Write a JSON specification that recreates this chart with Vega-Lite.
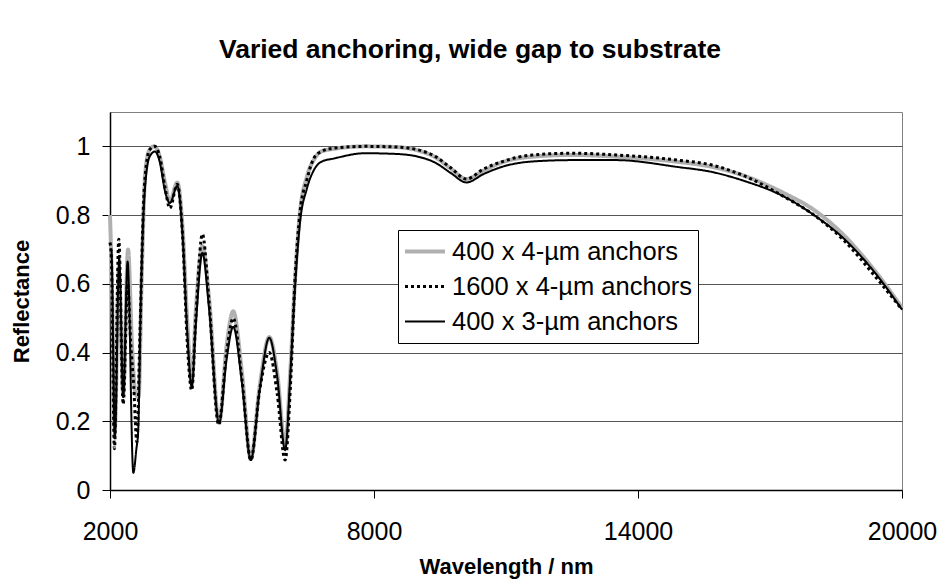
{
  "$schema": "https://vega.github.io/schema/vega-lite/v6.json",
  "width": 792,
  "height": 378,
  "autosize": {"type": "none"},
  "padding": {"left": 110, "top": 112, "right": 37, "bottom": 96},
  "background": "white",
  "config": {
    "font": "Liberation Sans",
    "view": {"stroke": "#808080", "strokeWidth": 1},
    "axis": {"domainColor": "#000", "tickColor": "#000", "labelColor": "#000", "titleColor": "#000", "labelFont": "Liberation Sans", "titleFont": "Liberation Sans"}
  },
  "title": {
    "text": "Varied anchoring, wide gap to substrate",
    "font": "Liberation Sans",
    "fontSize": 26.5,
    "fontWeight": "bold",
    "color": "#000",
    "anchor": "middle",
    "baseline": "alphabetic",
    "offset": 28,
    "dx": -36
  },
  "data": {
    "values": [
      {"series": "400 x 4-µm anchors", "nm": 2000, "R": 0.80},
      {"series": "400 x 4-µm anchors", "nm": 2040, "R": 0.62},
      {"series": "400 x 4-µm anchors", "nm": 2110, "R": 0.18},
      {"series": "400 x 4-µm anchors", "nm": 2200, "R": 0.64},
      {"series": "400 x 4-µm anchors", "nm": 2300, "R": 0.28},
      {"series": "400 x 4-µm anchors", "nm": 2410, "R": 0.70},
      {"series": "400 x 4-µm anchors", "nm": 2500, "R": 0.42},
      {"series": "400 x 4-µm anchors", "nm": 2580, "R": 0.28},
      {"series": "400 x 4-µm anchors", "nm": 2650, "R": 0.27},
      {"series": "400 x 4-µm anchors", "nm": 2720, "R": 0.62},
      {"series": "400 x 4-µm anchors", "nm": 2800, "R": 0.92},
      {"series": "400 x 4-µm anchors", "nm": 2900, "R": 0.99},
      {"series": "400 x 4-µm anchors", "nm": 3000, "R": 1.0},
      {"series": "400 x 4-µm anchors", "nm": 3120, "R": 0.975},
      {"series": "400 x 4-µm anchors", "nm": 3250, "R": 0.895},
      {"series": "400 x 4-µm anchors", "nm": 3360, "R": 0.84},
      {"series": "400 x 4-µm anchors", "nm": 3530, "R": 0.895},
      {"series": "400 x 4-µm anchors", "nm": 3650, "R": 0.76},
      {"series": "400 x 4-µm anchors", "nm": 3760, "R": 0.48},
      {"series": "400 x 4-µm anchors", "nm": 3857, "R": 0.31},
      {"series": "400 x 4-µm anchors", "nm": 3950, "R": 0.52},
      {"series": "400 x 4-µm anchors", "nm": 4100, "R": 0.71},
      {"series": "400 x 4-µm anchors", "nm": 4250, "R": 0.56},
      {"series": "400 x 4-µm anchors", "nm": 4480, "R": 0.195},
      {"series": "400 x 4-µm anchors", "nm": 4650, "R": 0.42},
      {"series": "400 x 4-µm anchors", "nm": 4800, "R": 0.52},
      {"series": "400 x 4-µm anchors", "nm": 5000, "R": 0.34},
      {"series": "400 x 4-µm anchors", "nm": 5200, "R": 0.09},
      {"series": "400 x 4-µm anchors", "nm": 5400, "R": 0.30},
      {"series": "400 x 4-µm anchors", "nm": 5620, "R": 0.445},
      {"series": "400 x 4-µm anchors", "nm": 5800, "R": 0.34},
      {"series": "400 x 4-µm anchors", "nm": 5980, "R": 0.13},
      {"series": "400 x 4-µm anchors", "nm": 6100, "R": 0.35},
      {"series": "400 x 4-µm anchors", "nm": 6200, "R": 0.60},
      {"series": "400 x 4-µm anchors", "nm": 6320, "R": 0.81},
      {"series": "400 x 4-µm anchors", "nm": 6470, "R": 0.91},
      {"series": "400 x 4-µm anchors", "nm": 6630, "R": 0.96},
      {"series": "400 x 4-µm anchors", "nm": 6800, "R": 0.985},
      {"series": "400 x 4-µm anchors", "nm": 7100, "R": 0.993},
      {"series": "400 x 4-µm anchors", "nm": 7800, "R": 1.0},
      {"series": "400 x 4-µm anchors", "nm": 8500, "R": 0.998},
      {"series": "400 x 4-µm anchors", "nm": 9000, "R": 0.988},
      {"series": "400 x 4-µm anchors", "nm": 9400, "R": 0.968},
      {"series": "400 x 4-µm anchors", "nm": 9750, "R": 0.935},
      {"series": "400 x 4-µm anchors", "nm": 10100, "R": 0.905},
      {"series": "400 x 4-µm anchors", "nm": 10500, "R": 0.93},
      {"series": "400 x 4-µm anchors", "nm": 10900, "R": 0.953},
      {"series": "400 x 4-µm anchors", "nm": 11600, "R": 0.97},
      {"series": "400 x 4-µm anchors", "nm": 12500, "R": 0.975},
      {"series": "400 x 4-µm anchors", "nm": 13500, "R": 0.97},
      {"series": "400 x 4-µm anchors", "nm": 14900, "R": 0.955},
      {"series": "400 x 4-µm anchors", "nm": 15700, "R": 0.94},
      {"series": "400 x 4-µm anchors", "nm": 16400, "R": 0.915},
      {"series": "400 x 4-µm anchors", "nm": 17300, "R": 0.865},
      {"series": "400 x 4-µm anchors", "nm": 18000, "R": 0.815},
      {"series": "400 x 4-µm anchors", "nm": 18650, "R": 0.745},
      {"series": "400 x 4-µm anchors", "nm": 19400, "R": 0.635},
      {"series": "400 x 4-µm anchors", "nm": 20000, "R": 0.53},

      {"series": "1600 x 4-µm anchors", "nm": 2000, "R": 0.72},
      {"series": "1600 x 4-µm anchors", "nm": 2030, "R": 0.68},
      {"series": "1600 x 4-µm anchors", "nm": 2100, "R": 0.12},
      {"series": "1600 x 4-µm anchors", "nm": 2200, "R": 0.73},
      {"series": "1600 x 4-µm anchors", "nm": 2300, "R": 0.25},
      {"series": "1600 x 4-µm anchors", "nm": 2400, "R": 0.60},
      {"series": "1600 x 4-µm anchors", "nm": 2470, "R": 0.43},
      {"series": "1600 x 4-µm anchors", "nm": 2540, "R": 0.30},
      {"series": "1600 x 4-µm anchors", "nm": 2610, "R": 0.14},
      {"series": "1600 x 4-µm anchors", "nm": 2680, "R": 0.45},
      {"series": "1600 x 4-µm anchors", "nm": 2780, "R": 0.88},
      {"series": "1600 x 4-µm anchors", "nm": 2900, "R": 0.99},
      {"series": "1600 x 4-µm anchors", "nm": 3020, "R": 1.0},
      {"series": "1600 x 4-µm anchors", "nm": 3130, "R": 0.97},
      {"series": "1600 x 4-µm anchors", "nm": 3250, "R": 0.88},
      {"series": "1600 x 4-µm anchors", "nm": 3360, "R": 0.82},
      {"series": "1600 x 4-µm anchors", "nm": 3530, "R": 0.89},
      {"series": "1600 x 4-µm anchors", "nm": 3650, "R": 0.74},
      {"series": "1600 x 4-µm anchors", "nm": 3760, "R": 0.42},
      {"series": "1600 x 4-µm anchors", "nm": 3857, "R": 0.29},
      {"series": "1600 x 4-µm anchors", "nm": 3950, "R": 0.50},
      {"series": "1600 x 4-µm anchors", "nm": 4100, "R": 0.745},
      {"series": "1600 x 4-µm anchors", "nm": 4250, "R": 0.55},
      {"series": "1600 x 4-µm anchors", "nm": 4470, "R": 0.19},
      {"series": "1600 x 4-µm anchors", "nm": 4650, "R": 0.40},
      {"series": "1600 x 4-µm anchors", "nm": 4800, "R": 0.50},
      {"series": "1600 x 4-µm anchors", "nm": 5000, "R": 0.32},
      {"series": "1600 x 4-µm anchors", "nm": 5200, "R": 0.087},
      {"series": "1600 x 4-µm anchors", "nm": 5400, "R": 0.29},
      {"series": "1600 x 4-µm anchors", "nm": 5620, "R": 0.40},
      {"series": "1600 x 4-µm anchors", "nm": 5800, "R": 0.28},
      {"series": "1600 x 4-µm anchors", "nm": 5980, "R": 0.087},
      {"series": "1600 x 4-µm anchors", "nm": 6100, "R": 0.30},
      {"series": "1600 x 4-µm anchors", "nm": 6200, "R": 0.60},
      {"series": "1600 x 4-µm anchors", "nm": 6320, "R": 0.81},
      {"series": "1600 x 4-µm anchors", "nm": 6470, "R": 0.90},
      {"series": "1600 x 4-µm anchors", "nm": 6630, "R": 0.965},
      {"series": "1600 x 4-µm anchors", "nm": 6800, "R": 0.985},
      {"series": "1600 x 4-µm anchors", "nm": 7100, "R": 0.995},
      {"series": "1600 x 4-µm anchors", "nm": 7800, "R": 1.0},
      {"series": "1600 x 4-µm anchors", "nm": 8500, "R": 0.998},
      {"series": "1600 x 4-µm anchors", "nm": 9000, "R": 0.99},
      {"series": "1600 x 4-µm anchors", "nm": 9400, "R": 0.97},
      {"series": "1600 x 4-µm anchors", "nm": 9750, "R": 0.937},
      {"series": "1600 x 4-µm anchors", "nm": 10100, "R": 0.905},
      {"series": "1600 x 4-µm anchors", "nm": 10500, "R": 0.935},
      {"series": "1600 x 4-µm anchors", "nm": 10900, "R": 0.955},
      {"series": "1600 x 4-µm anchors", "nm": 11600, "R": 0.975},
      {"series": "1600 x 4-µm anchors", "nm": 12500, "R": 0.98},
      {"series": "1600 x 4-µm anchors", "nm": 13500, "R": 0.975},
      {"series": "1600 x 4-µm anchors", "nm": 14900, "R": 0.96},
      {"series": "1600 x 4-µm anchors", "nm": 15700, "R": 0.945},
      {"series": "1600 x 4-µm anchors", "nm": 16400, "R": 0.915},
      {"series": "1600 x 4-µm anchors", "nm": 17300, "R": 0.855},
      {"series": "1600 x 4-µm anchors", "nm": 18000, "R": 0.80},
      {"series": "1600 x 4-µm anchors", "nm": 18650, "R": 0.73},
      {"series": "1600 x 4-µm anchors", "nm": 19400, "R": 0.62},
      {"series": "1600 x 4-µm anchors", "nm": 20000, "R": 0.525},

      {"series": "400 x 3-µm anchors", "nm": 2000, "R": 0.70},
      {"series": "400 x 3-µm anchors", "nm": 2030, "R": 0.70},
      {"series": "400 x 3-µm anchors", "nm": 2110, "R": 0.15},
      {"series": "400 x 3-µm anchors", "nm": 2210, "R": 0.675},
      {"series": "400 x 3-µm anchors", "nm": 2300, "R": 0.27},
      {"series": "400 x 3-µm anchors", "nm": 2400, "R": 0.665},
      {"series": "400 x 3-µm anchors", "nm": 2530, "R": 0.05},
      {"series": "400 x 3-µm anchors", "nm": 2600, "R": 0.12},
      {"series": "400 x 3-µm anchors", "nm": 2640, "R": 0.17},
      {"series": "400 x 3-µm anchors", "nm": 2700, "R": 0.55},
      {"series": "400 x 3-µm anchors", "nm": 2780, "R": 0.85},
      {"series": "400 x 3-µm anchors", "nm": 2900, "R": 0.97},
      {"series": "400 x 3-µm anchors", "nm": 3020, "R": 0.985},
      {"series": "400 x 3-µm anchors", "nm": 3130, "R": 0.955},
      {"series": "400 x 3-µm anchors", "nm": 3250, "R": 0.87},
      {"series": "400 x 3-µm anchors", "nm": 3360, "R": 0.835},
      {"series": "400 x 3-µm anchors", "nm": 3530, "R": 0.885},
      {"series": "400 x 3-µm anchors", "nm": 3650, "R": 0.74},
      {"series": "400 x 3-µm anchors", "nm": 3760, "R": 0.45},
      {"series": "400 x 3-µm anchors", "nm": 3857, "R": 0.30},
      {"series": "400 x 3-µm anchors", "nm": 3950, "R": 0.48},
      {"series": "400 x 3-µm anchors", "nm": 4100, "R": 0.69},
      {"series": "400 x 3-µm anchors", "nm": 4250, "R": 0.53},
      {"series": "400 x 3-µm anchors", "nm": 4480, "R": 0.195},
      {"series": "400 x 3-µm anchors", "nm": 4650, "R": 0.38},
      {"series": "400 x 3-µm anchors", "nm": 4800, "R": 0.475},
      {"series": "400 x 3-µm anchors", "nm": 5000, "R": 0.31},
      {"series": "400 x 3-µm anchors", "nm": 5200, "R": 0.087},
      {"series": "400 x 3-µm anchors", "nm": 5400, "R": 0.29},
      {"series": "400 x 3-µm anchors", "nm": 5620, "R": 0.443},
      {"series": "400 x 3-µm anchors", "nm": 5800, "R": 0.33},
      {"series": "400 x 3-µm anchors", "nm": 5980, "R": 0.116},
      {"series": "400 x 3-µm anchors", "nm": 6100, "R": 0.34},
      {"series": "400 x 3-µm anchors", "nm": 6200, "R": 0.58},
      {"series": "400 x 3-µm anchors", "nm": 6320, "R": 0.78},
      {"series": "400 x 3-µm anchors", "nm": 6470, "R": 0.875},
      {"series": "400 x 3-µm anchors", "nm": 6630, "R": 0.93},
      {"series": "400 x 3-µm anchors", "nm": 6800, "R": 0.955},
      {"series": "400 x 3-µm anchors", "nm": 7100, "R": 0.965},
      {"series": "400 x 3-µm anchors", "nm": 7800, "R": 0.98},
      {"series": "400 x 3-µm anchors", "nm": 8500, "R": 0.978},
      {"series": "400 x 3-µm anchors", "nm": 9000, "R": 0.97},
      {"series": "400 x 3-µm anchors", "nm": 9400, "R": 0.952},
      {"series": "400 x 3-µm anchors", "nm": 9750, "R": 0.922},
      {"series": "400 x 3-µm anchors", "nm": 10100, "R": 0.895},
      {"series": "400 x 3-µm anchors", "nm": 10500, "R": 0.92},
      {"series": "400 x 3-µm anchors", "nm": 10900, "R": 0.94},
      {"series": "400 x 3-µm anchors", "nm": 11600, "R": 0.956},
      {"series": "400 x 3-µm anchors", "nm": 12500, "R": 0.96},
      {"series": "400 x 3-µm anchors", "nm": 13500, "R": 0.96},
      {"series": "400 x 3-µm anchors", "nm": 14900, "R": 0.94},
      {"series": "400 x 3-µm anchors", "nm": 15700, "R": 0.925},
      {"series": "400 x 3-µm anchors", "nm": 16400, "R": 0.90},
      {"series": "400 x 3-µm anchors", "nm": 17300, "R": 0.855},
      {"series": "400 x 3-µm anchors", "nm": 18000, "R": 0.80},
      {"series": "400 x 3-µm anchors", "nm": 18650, "R": 0.735},
      {"series": "400 x 3-µm anchors", "nm": 19400, "R": 0.63},
      {"series": "400 x 3-µm anchors", "nm": 20000, "R": 0.525}
    ]
  },
  "encoding": {
    "x": {
      "field": "nm", "type": "quantitative",
      "scale": {"domain": [2000, 20000], "nice": false, "zero": false},
      "axis": {
        "title": "Wavelength / nm", "values": [2000, 8000, 14000, 20000], "format": "d",
        "grid": false, "tickSize": 8, "labelFontSize": 25, "labelPadding": 21,
        "titleFontSize": 22, "titleFontWeight": "bold", "titlePadding": 12,
        "domainWidth": 1.5, "labelFlush": false
      }
    },
    "y": {
      "field": "R", "type": "quantitative",
      "scale": {"domain": [0, 1.1], "nice": false},
      "axis": {
        "title": "Reflectance", "values": [0, 0.2, 0.4, 0.6, 0.8, 1.0], "format": "~g",
        "grid": true, "gridColor": "#555", "gridWidth": 1, "gridOpacity": 1,
        "tickSize": 8, "labelFontSize": 25, "labelPadding": 12,
        "titleFontSize": 22, "titleFontWeight": "bold", "titlePadding": 22,
        "domainWidth": 1.5, "labelFlush": false
      }
    },
    "color": {
      "field": "series", "type": "nominal",
      "scale": {"domain": ["400 x 4-µm anchors", "1600 x 4-µm anchors", "400 x 3-µm anchors"], "range": ["#b0b0b0", "#000000", "#000000"]},
      "legend": {
        "title": null, "orient": "none", "legendX": 288, "legendY": 118,
        "direction": "vertical",
        "fillColor": "white", "strokeColor": "#000", "padding": 5, "cornerRadius": 0,
        "labelFontSize": 25.5, "labelFont": "Liberation Sans", "labelColor": "#000", "labelLimit": 400,
        "symbolType": "stroke", "symbolSize": 1600, "labelOffset": 5,
        "clipHeight": 33, "rowPadding": 2
      }
    },
    "strokeDash": {
      "field": "series", "type": "nominal",
      "scale": {"domain": ["400 x 4-µm anchors", "1600 x 4-µm anchors", "400 x 3-µm anchors"], "range": [[1, 0], [3, 3], [1, 0]]}
    },
    "strokeWidth": {
      "field": "series", "type": "ordinal",
      "scale": {"domain": ["400 x 4-µm anchors", "1600 x 4-µm anchors", "400 x 3-µm anchors"], "range": [4, 2, 1.3]}
    }
  },
  "layer": [
    {"transform": [{"filter": "datum.series === '400 x 4-µm anchors'"}], "mark": {"type": "line", "interpolate": "monotone"}},
    {"transform": [{"filter": "datum.series === '1600 x 4-µm anchors'"}], "mark": {"type": "line", "interpolate": "monotone"}},
    {"transform": [{"filter": "datum.series === '400 x 3-µm anchors'"}], "mark": {"type": "line", "interpolate": "monotone"}}
  ]
}
